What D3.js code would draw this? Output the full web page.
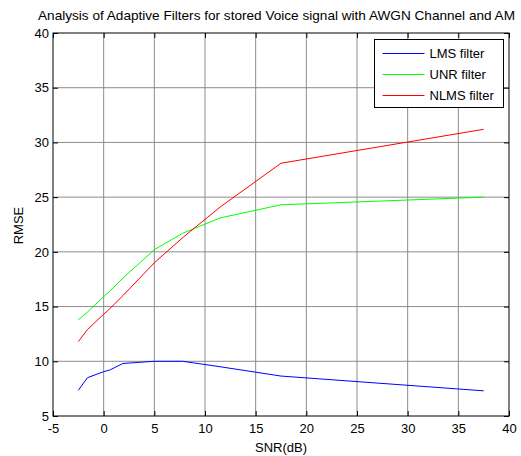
<!DOCTYPE html>
<html>
<head>
<meta charset="utf-8">
<script src="https://cdn.jsdelivr.net/npm/d3@7"></script>
<style>
  body { margin: 0; background: #fff; }
  text { font-family: "Liberation Sans", Arial, sans-serif; }
</style>
</head>
<body>
<svg width="521" height="456"></svg>
<script>
// values
var snr  = [-2.5, -1.6, 0, 0.6, 1.9, 5, 7.8, 11.5, 17.5, 37.5];
var lms  = [7.35, 8.5, 9.05, 9.2, 9.8, 10.0, 10.0, 9.5, 8.65, 7.3];
var unr  = [13.8, 14.5, 15.9, 16.4, 17.6, 20.2, 21.7, 23.1, 24.3, 25.0];
var nlms = [11.8, 12.9, 14.3, 14.8, 16.0, 19.0, 21.3, 24.1, 28.1, 31.2];

var xTicks = [-5, 0, 5, 10, 15, 20, 25, 30, 35, 40];
var yTicks = [5, 10, 15, 20, 25, 30, 35, 40];

var seriesNames  = ["LMS filter", "UNR filter", "NLMS filter"];
var seriesValues = [lms, unr, nlms];
var seriesColors = ["#0000ff", "#00ff00", "#ff0000"];

var svg = d3.select("svg"),
    width = +svg.attr("width"),
    height = +svg.attr("height");

// plot box (note: "top" is taken by window.top)
var pLeft = 53, pRight = 509, pTop = 33, pBottom = 416;
var fontSize = 13;

var x = d3.scaleLinear().domain([-5, 40]).range([pLeft, pRight]);
var y = d3.scaleLinear().domain([5, 40]).range([pBottom, pTop]);

svg.append("rect")
    .attr("width", width)
    .attr("height", height)
    .attr("fill", "#fff");

// grid
var grid = svg.append("g").attr("class", "grid");
grid.selectAll("line.gx")
    .data(xTicks.slice(1, -1))
    .enter().append("line")
    .attr("x1", function(d) { return x(d); })
    .attr("x2", function(d) { return x(d); })
    .attr("y1", pTop).attr("y2", pBottom)
    .attr("stroke", "#8c8c8c")
    .attr("stroke-width", 1);
grid.selectAll("line.gy")
    .data(yTicks.slice(1, -1))
    .enter().append("line")
    .attr("y1", function(d) { return y(d); })
    .attr("y2", function(d) { return y(d); })
    .attr("x1", pLeft).attr("x2", pRight)
    .attr("stroke", "#8c8c8c")
    .attr("stroke-width", 1);

// axes with inward ticks, plain hyphen for negatives like matlab
var tickLen = 5;
var fmt = function(d) { return String(d); };
svg.append("g")
    .attr("transform", "translate(0," + pBottom + ")")
    .call(d3.axisBottom(x).tickValues(xTicks).tickSizeInner(-tickLen).tickSizeOuter(0).tickPadding(8).tickFormat(fmt))
    .call(function(g) { g.select(".domain").remove(); });
svg.append("g")
    .attr("transform", "translate(0," + pTop + ")")
    .call(d3.axisTop(x).tickValues(xTicks).tickSizeInner(-tickLen).tickSizeOuter(0).tickFormat(""))
    .call(function(g) { g.select(".domain").remove(); });
svg.append("g")
    .attr("transform", "translate(" + pLeft + ",0)")
    .call(d3.axisLeft(y).tickValues(yTicks).tickSizeInner(-tickLen).tickSizeOuter(0).tickPadding(4).tickFormat(fmt))
    .call(function(g) { g.select(".domain").remove(); });
svg.append("g")
    .attr("transform", "translate(" + pRight + ",0)")
    .call(d3.axisRight(y).tickValues(yTicks).tickSizeInner(-tickLen).tickSizeOuter(0).tickFormat(""))
    .call(function(g) { g.select(".domain").remove(); });

svg.selectAll(".tick text")
    .attr("font-size", fontSize)
    .attr("font-family", "'Liberation Sans', Arial, sans-serif")
    .attr("fill", "#000");
svg.selectAll(".tick line").attr("stroke", "#000");

svg.append("rect")
    .attr("x", pLeft).attr("y", pTop)
    .attr("width", pRight - pLeft).attr("height", pBottom - pTop)
    .attr("fill", "none")
    .attr("stroke", "#000")
    .attr("stroke-width", 1);

// lines
var line = d3.line()
    .x(function(d, i) { return x(snr[i]); })
    .y(function(d) { return y(d); });

svg.selectAll("path.series")
    .data(seriesValues)
    .enter().append("path")
    .attr("class", "series")
    .attr("d", line)
    .attr("fill", "none")
    .attr("stroke", function(d, i) { return seriesColors[i]; })
    .attr("stroke-width", 1);

// title (runs off the right edge in the original too)
svg.append("text")
    .attr("x", 38)
    .attr("y", 20)
    .attr("font-size", 13.6)
    .text("Analysis of Adaptive Filters for stored Voice signal with AWGN Channel and AM");

svg.append("text")
    .attr("x", (pLeft + pRight) / 2)
    .attr("y", 452)
    .attr("text-anchor", "middle")
    .attr("font-size", fontSize)
    .text("SNR(dB)");

svg.append("text")
    .attr("transform", "translate(23," + ((pTop + pBottom) / 2 + 1) + ") rotate(-90)")
    .attr("text-anchor", "middle")
    .attr("font-size", fontSize)
    .text("RMSE");

// legend
var legend = svg.append("g").attr("transform", "translate(374.5,39.5)");
legend.append("rect")
    .attr("width", 129).attr("height", 68)
    .attr("fill", "#fff")
    .attr("stroke", "#000")
    .attr("stroke-width", 1);

seriesNames.forEach(function(name, i) {
    var rowY = 14 + i * 21;
    legend.append("path")
        .attr("d", "M8," + rowY + "H50")
        .attr("fill", "none")
        .style("stroke", seriesColors[i])
        .style("stroke-width", "1px");
    legend.append("text")
        .attr("x", 55)
        .attr("y", rowY)
        .attr("dy", "0.35em")
        .attr("font-size", fontSize)
        .text(name);
});
</script>
</body>
</html>
